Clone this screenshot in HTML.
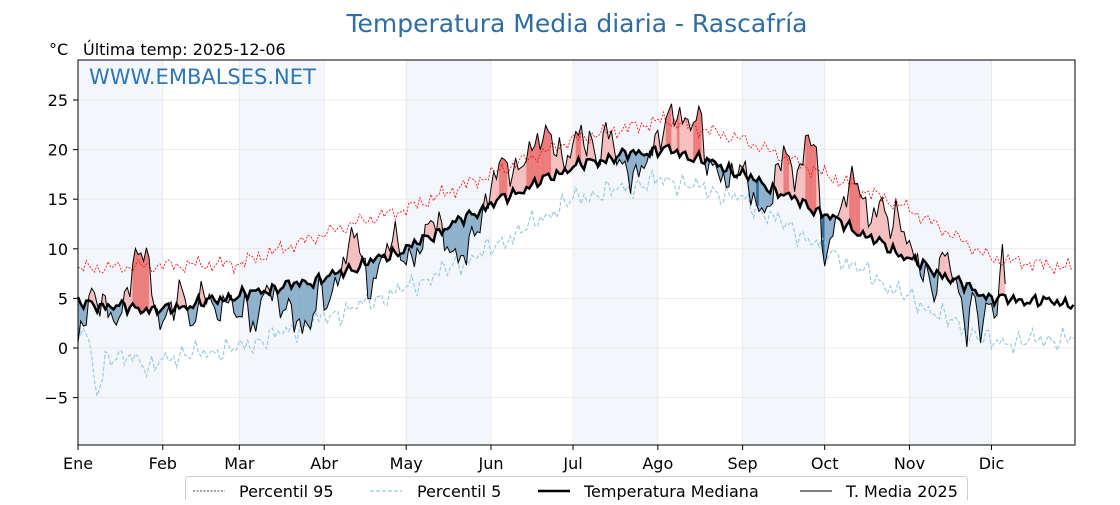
<!DOCTYPE html>
<html><head><meta charset="utf-8">
<style>
body{margin:0;background:#fff;font-family:"Liberation Sans","DejaVu Sans",sans-serif;}
svg text{font-family:"DejaVu Sans","Liberation Sans",sans-serif;}
</style></head>
<body>
<svg id="s" width="1120" height="500" xmlns="http://www.w3.org/2000/svg">
<rect width="1120" height="500" fill="#fff"/>
<g id="bands"></g>
<g id="grid"></g>
<g id="fills"></g>
<path id="p95" fill="none" stroke="#ff0000" stroke-width="0.8" stroke-dasharray="2,1.5"/>
<path id="p5" fill="none" stroke="#9ecae1" stroke-width="1.2" stroke-dasharray="4,2"/>
<path id="t25" fill="none" stroke="#000" stroke-width="1"/>
<path id="med" fill="none" stroke="#000" stroke-width="2.5"/>
<rect x="78" y="60" width="997" height="385" fill="none" stroke="#000" stroke-width="1"/>
<g id="ticks" font-size="16" fill="#000"></g>
<text x="577" y="32" font-size="25" fill="#2e6da4" text-anchor="middle">Temperatura Media diaria - Rascafría</text>
<text x="49" y="55" font-size="16">°C</text>
<text x="83" y="55" font-size="16">Última temp: 2025-12-06</text>
<text x="89" y="84" font-size="21" fill="#2e75b6">WWW.EMBALSES.NET</text>
<g font-size="16">
<rect x="185.5" y="476.5" width="782" height="30" rx="3" fill="#fff" stroke="#ccc"/>
<line x1="193" y1="491" x2="225" y2="491" stroke="#000" stroke-width="0.8" stroke-dasharray="2,1.5"/>
<text x="239" y="497">Percentil 95</text>
<line x1="370" y1="491" x2="402" y2="491" stroke="#9ecae1" stroke-width="1.2" stroke-dasharray="4,2"/>
<text x="417" y="497">Percentil 5</text>
<line x1="538" y1="491" x2="570" y2="491" stroke="#000" stroke-width="2.5"/>
<text x="584" y="497">Temperatura Mediana</text>
<line x1="800" y1="491" x2="832" y2="491" stroke="#000" stroke-width="1"/>
<text x="846" y="497">T. Media 2025</text>
</g>
</svg>
<script>
var NS="http://www.w3.org/2000/svg";
function X(d){return 78+d*2.735;}
function Y(v){return 348-9.92*v;}
function el(t,a,p){var e=document.createElementNS(NS,t);for(var k in a)e.setAttribute(k,a[k]);document.getElementById(p).appendChild(e);return e;}
function interp(pts,d){for(var i=0;i<pts.length-1;i++){if(d>=pts[i][0]&&d<=pts[i+1][0]){var t=(d-pts[i][0])/(pts[i+1][0]-pts[i][0]);return pts[i][1]+t*(pts[i+1][1]-pts[i][1]);}}return pts[pts.length-1][1];}
function nz(d,s){return Math.sin(d*1.7+s)*0.5+Math.sin(d*3.1+s*2)*0.35+Math.sin(d*0.63+s*3)*0.4;}
function nz2(d,s){return Math.sin(d*2.3+s)*0.5+Math.sin(d*4.7+s*2)*0.45+Math.sin(d*1.13+s*3)*0.5+Math.sin(d*0.41+s)*0.3;}
var months=[0,31,59,90,120,151,181,212,243,273,304,334];
var names=["Ene","Feb","Mar","Abr","May","Jun","Jul","Ago","Sep","Oct","Nov","Dic"];
[0,2,4,6,8,10].forEach(function(m){var a=months[m],b=months[m+1];el("rect",{x:X(a),y:60,width:X(b)-X(a),height:385,fill:"#f3f7fb"},"bands");});
months.forEach(function(m,i){el("line",{x1:X(m),y1:60,x2:X(m),y2:445,stroke:"#e6e6e6","stroke-width":0.8},"grid");
 el("line",{x1:X(m),y1:445,x2:X(m),y2:450,stroke:"#000"},"ticks");
 var t=el("text",{x:X(m),y:469,"text-anchor":"middle"},"ticks");t.textContent=names[i];});
[-5,0,5,10,15,20,25].forEach(function(v){el("line",{x1:78,y1:Y(v),x2:1075,y2:Y(v),stroke:"#e6e6e6","stroke-width":0.8},"grid");
 el("line",{x1:73,y1:Y(v),x2:78,y2:Y(v),stroke:"#000"},"ticks");
 var t=el("text",{x:68,y:Y(v)+6,"text-anchor":"end"},"ticks");t.textContent=(v<0?"\u2212"+(-v):v);});
var medK=[[0,4.5],[31,3.8],[59,5.3],[90,7],[120,10],[151,14.5],[181,18.3],[200,19.5],[215,20],[228,19],[243,17.5],[273,13.5],[304,9],[334,5],[365,4.5]];
var p95K=[[0,8],[31,8.3],[59,8.5],[80,10.5],[100,12.5],[120,14],[151,17.5],[181,21],[215,23],[243,21],[273,17.5],[304,14],[334,9],[365,8]];
var p5K=[[0,3],[4,1],[7,-4.8],[10,-1.5],[20,-0.5],[26,-2.5],[31,-1],[59,0],[90,3],[120,6],[151,10],[181,15],[215,17],[243,15],[273,10],[304,5],[334,0.5],[365,1]];
var med=[],p95=[],p5=[],t25=[];
for(var d=0;d<365;d++){
 med.push(interp(medK,d)+nz2(d,1)*0.55);
 p95.push(interp(p95K,d)+nz(d,2)*0.8);
 p5.push(interp(p5K,d)+nz2(d,3)*0.9);
}
var tK=[[0,1.5],[5,5],[10,4],[15,3],[20,8],[25,10],[28,4],[32,3],[38,5.5],[42,2],[46,7],[50,3],[55,4.5],[60,3.5],[62,5],[65,1],[68,6],[72,5],[78,4],[82,1.5],[85,2],[88,6],[92,5],[98,9],[102,12],[106,6],[110,8],[115,11],[120,9],[125,10],[130,13],[134,11],[140,9],[145,11],[150,15],[152,18],[155,19],[160,17],[165,20],[170,22],[175,20],[178,18],[182,22],[187,21],[190,18],[193,22],[197,20],[200,18],[205,17],[210,20],[213,22],[217,24],[220,23],[223,22],[227,24],[230,19],[233,18],[238,16],[242,19],[245,17],[250,13],[254,15],[258,21],[262,17],[266,20],[270,21],[272,9],[276,12],[280,15],[285,17],[289,13],[293,15],[297,12],[300,13],[305,10],[309,8],[313,5],[317,10],[321,7],[325,2],[328,5],[330,1],[333,5],[335,3],[338,10],[339,6]];
for(var d=0;d<=339;d++)t25.push(interp(tK,d)+nz2(d,5)*1.4);
function path(a){return a.map(function(v,i){return(i?"L":"M")+X(i).toFixed(1)+","+Y(v).toFixed(1);}).join("");}
document.getElementById("med").setAttribute("d",path(med));
document.getElementById("p95").setAttribute("d",path(p95));
document.getElementById("p5").setAttribute("d",path(p5));
document.getElementById("t25").setAttribute("d",path(t25));
for(var i=0;i<339;i++){
 var a=t25[i]-med[i],b=t25[i+1]-med[i+1],c;
 var hi=(t25[i]>p95[i]&&t25[i+1]>p95[i+1]),lo=(t25[i]<p5[i]&&t25[i+1]<p5[i+1]);
 if(a+b>=0)c=hi?"#ec7d7d":"#f6bfbf";else c=lo?"#2f6c9e":"#8eb1cc";
 var pts=[X(i),Y(med[i]),X(i+1),Y(med[i+1]),X(i+1),Y(t25[i+1]),X(i),Y(t25[i])].map(function(v){return v.toFixed(1)});
 el("polygon",{points:pts.join(" "),fill:c,stroke:c,"stroke-width":0.3},"fills");
}
</script>
</body></html>
